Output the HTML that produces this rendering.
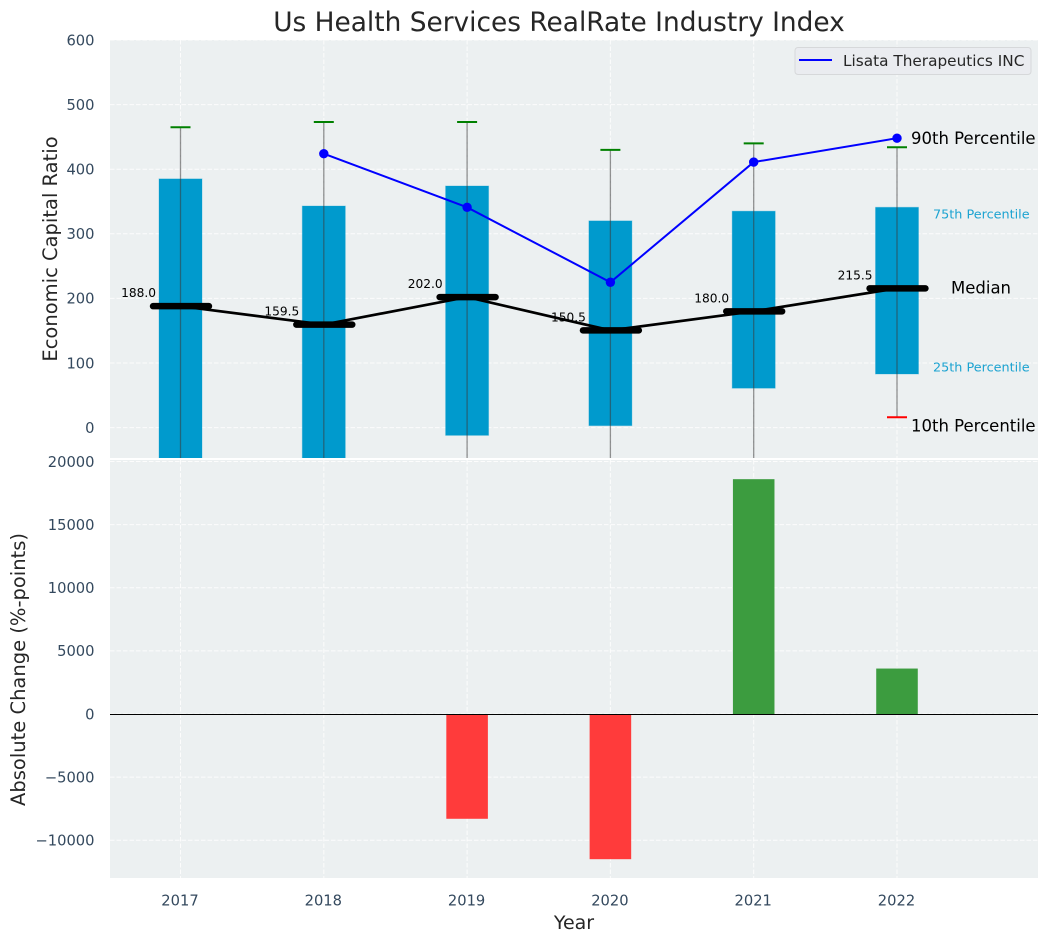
<!DOCTYPE html>
<html lang="en">
<head>
<meta charset="utf-8">
<title>Us Health Services RealRate Industry Index</title>
<style>
html,body{margin:0;padding:0;background:#fff;}
svg{display:block;font-family:"DejaVu Sans","Liberation Sans",sans-serif;}
</style>
</head>
<body>
<svg id="chart" xmlns="http://www.w3.org/2000/svg" width="1048" height="942" viewBox="0 0 1048 942">
  <defs>
    <clipPath id="clip-top"><rect x="110" y="40" width="928" height="418"/></clipPath>
    <clipPath id="clip-bottom"><rect x="110" y="460" width="928" height="418"/></clipPath>
  </defs>
  <rect x="110" y="40" width="928" height="418" fill="#ecf0f1"/>
  <rect x="110" y="460" width="928" height="418" fill="#ecf0f1"/>
  <g id="grid"></g>
  <g id="top-marks" clip-path="url(#clip-top)"></g>
  <g id="bottom-marks" clip-path="url(#clip-bottom)"></g>
  <g id="ticks"></g>
  <g id="labels"></g>
  <text x="559" y="31" text-anchor="middle" font-size="26.4" fill="#262626">Us Health Services RealRate Industry Index</text>
  <text x="574" y="929" text-anchor="middle" font-size="19" fill="#262626">Year</text>
  <text transform="translate(57,249) rotate(-90)" text-anchor="middle" font-size="19.5" fill="#262626">Economic Capital Ratio</text>
  <text transform="translate(25,669.5) rotate(-90)" text-anchor="middle" font-size="19.5" fill="#262626">Absolute Change (%-points)</text>
  <g>
    <rect x="795" y="47.5" width="236" height="27" rx="3" fill="#eaecf0" stroke="#d6d8da" stroke-width="1"/>
    <line x1="799" y1="60" x2="832" y2="60" stroke="#0000ff" stroke-width="2"/>
    <text x="843" y="66" font-size="15.3" fill="#262626">Lisata Therapeutics INC</text>
  </g>
</svg>
<script>
const years = [2017, 2018, 2019, 2020, 2021, 2022];
const p90 = [465, 473, 473, 430, 440, 434];
const p75 = [385, 343, 374, 320, 335, 341];
const medians = [188.0, 159.5, 202.0, 150.5, 180.0, 215.5];
const p25 = [-60, -55, -12, 3, 61, 83];
const p10 = [-120, -110, -90, -80, -60, 16];
const lisata = [null, 424, 341, 225, 411, 448];
const changes = [0, 0, -8300, -11500, 18600, 3600];
const topTicks = [0, 100, 200, 300, 400, 500, 600];
const bottomTicks = [-10000, -5000, 0, 5000, 10000, 15000, 20000];

const NS = 'http://www.w3.org/2000/svg';
const X0 = 180.5, XSTEP = 143.3;
function xScale(year) { return X0 + (year - years[0]) * XSTEP; }
function yTop(v) { return 427.6 - v * 0.6460; }
function yBottom(v) { return 714 - v * 0.012625; }
const BOX_W = 0.3 * XSTEP, BAR_W = 0.29 * XSTEP, MED_W = 0.39 * XSTEP, CAP = 10;

function mk(parent, tag, props, text) {
  const el = document.createElementNS(NS, tag);
  for (const k in props) el.setAttribute(k, props[k]);
  if (text !== undefined) el.textContent = text;
  parent.appendChild(el);
  return el;
}
const grid = document.getElementById('grid');
const top_ = document.getElementById('top-marks');
const bot = document.getElementById('bottom-marks');
const ticks = document.getElementById('ticks');
const labels = document.getElementById('labels');
const GRID = { stroke: '#ffffff', 'stroke-width': 1, 'stroke-dasharray': '4.5 2', opacity: 0.85 };
const TICK = '#34495e';
const TICK_SIZE = 14.7;

topTicks.forEach(function (t) {
  const y = yTop(t);
  const g = mk(grid, 'line', Object.assign({ x1: 110, x2: 1038, y1: y, y2: y }, GRID));
  
  
  const l = mk(ticks, 'text', { x: 94.5, y: y + 5.3, 'text-anchor': 'end', 'font-size': TICK_SIZE, fill: TICK }, String(t));
  
  
});
bottomTicks.forEach(function (t) {
  const y = yBottom(t);
  const g = mk(grid, 'line', Object.assign({ x1: 110, x2: 1038, y1: y, y2: y }, GRID));
  
  
  const l = mk(ticks, 'text', { x: 94.5, y: y + 5.3, 'text-anchor': 'end', 'font-size': TICK_SIZE, fill: TICK }, String(t).replace('-', '\u2212'));
  
  
});
years.forEach(function (yr) {
  const x = xScale(yr);
  const g1 = mk(grid, 'line', Object.assign({ x1: x, x2: x, y1: 40, y2: 458 }, GRID));
  
  
  const g2 = mk(grid, 'line', Object.assign({ x1: x, x2: x, y1: 460, y2: 878 }, GRID));
  
  
  const l = mk(ticks, 'text', { x: x - 0.5, y: 905.3, 'text-anchor': 'middle', 'font-size': TICK_SIZE, fill: TICK }, String(yr));
  
  
});

years.forEach(function (yr, i) {
  const x = xScale(yr);
  const box = mk(top_, 'rect', { x: x - BOX_W / 2, y: yTop(p75[i]), width: BOX_W, height: yTop(p25[i]) - yTop(p75[i]), fill: '#009acd', stroke: '#009acd', 'stroke-opacity': 0.3, 'stroke-width': 1 });
  
  
  const w = mk(top_, 'line', { x1: x, x2: x, y1: yTop(p90[i]), y2: yTop(p10[i]), stroke: '#3a3a3a', 'stroke-opacity': 0.55, 'stroke-width': 1.3 });
  
  
  const c1 = mk(top_, 'line', { x1: x - CAP, x2: x + CAP, y1: yTop(p90[i]), y2: yTop(p90[i]), stroke: '#008000', 'stroke-width': 2 });
  
  
  const c2 = mk(top_, 'line', { x1: x - CAP, x2: x + CAP, y1: yTop(p10[i]), y2: yTop(p10[i]), stroke: '#ff0000', 'stroke-width': 2 });
  
  
});

const medLine = mk(top_, 'polyline', {
  points: years.map(function (yr, i) { return xScale(yr) + ',' + yTop(medians[i]); }).join(' '),
  fill: 'none', stroke: '#000000', 'stroke-width': 2.7
});



years.forEach(function (yr, i) {
  const x = xScale(yr), y = yTop(medians[i]);
  const m = mk(top_, 'line', { x1: x - MED_W / 2 + 0.5, x2: x + MED_W / 2 + 0.5, y1: y, y2: y, stroke: '#000000', 'stroke-width': 6.5, 'stroke-linecap': 'round' });
  
  
  const t = mk(labels, 'text', { x: x - 24.5, y: y - 9, 'text-anchor': 'end', 'font-size': 12.2, fill: '#000000' }, medians[i].toFixed(1));
  
  
});

const lisataPts = [];
years.forEach(function (yr, i) {
  if (lisata[i] !== null) lisataPts.push(xScale(yr) + ',' + yTop(lisata[i]));
});
const lis = mk(top_, 'polyline', { points: lisataPts.join(' '), fill: 'none', stroke: '#0000ff', 'stroke-width': 2 });


years.forEach(function (yr, i) {
  if (lisata[i] === null) return;
  const d = mk(top_, 'circle', { cx: xScale(yr), cy: yTop(lisata[i]), r: 4.7, fill: '#0000ff' });
  
  
});

years.forEach(function (yr, i) {
  if (!changes[i]) return;
  const x = xScale(yr), y0 = yBottom(0), y1 = yBottom(changes[i]);
  const b = mk(bot, 'rect', {
    x: x - BAR_W / 2, y: Math.min(y0, y1), width: BAR_W, height: Math.abs(y1 - y0),
    fill: changes[i] > 0 ? '#3c9c3f' : '#ff3b3b'
  });
  
  
});
const zero = mk(bot, 'line', { x1: 110, x2: 1038, y1: yBottom(0) + 0.5, y2: yBottom(0) + 0.5, stroke: '#000000', 'stroke-width': 1.1 });



const last = years.length - 1;
const xl = xScale(years[last]);
const a1 = mk(labels, 'text', { x: xl + 14, y: yTop(p90[last]) - 3, 'font-size': 16.5, fill: '#000000' }, '90th Percentile');


const a2 = mk(labels, 'text', { x: xl + 36, y: yTop(p75[last]) + 11, 'font-size': 12.8, fill: '#1ca3d1' }, '75th Percentile');


const a3 = mk(labels, 'text', { x: xl + 54, y: yTop(medians[last]) + 5, 'font-size': 16.5, fill: '#000000' }, 'Median');


const a4 = mk(labels, 'text', { x: xl + 36, y: yTop(p25[last]) - 2.5, 'font-size': 12.8, fill: '#1ca3d1' }, '25th Percentile');


const a5 = mk(labels, 'text', { x: xl + 14, y: yTop(p10[last]) + 14, 'font-size': 16.5, fill: '#000000' }, '10th Percentile');


</script>
</body>
</html>
